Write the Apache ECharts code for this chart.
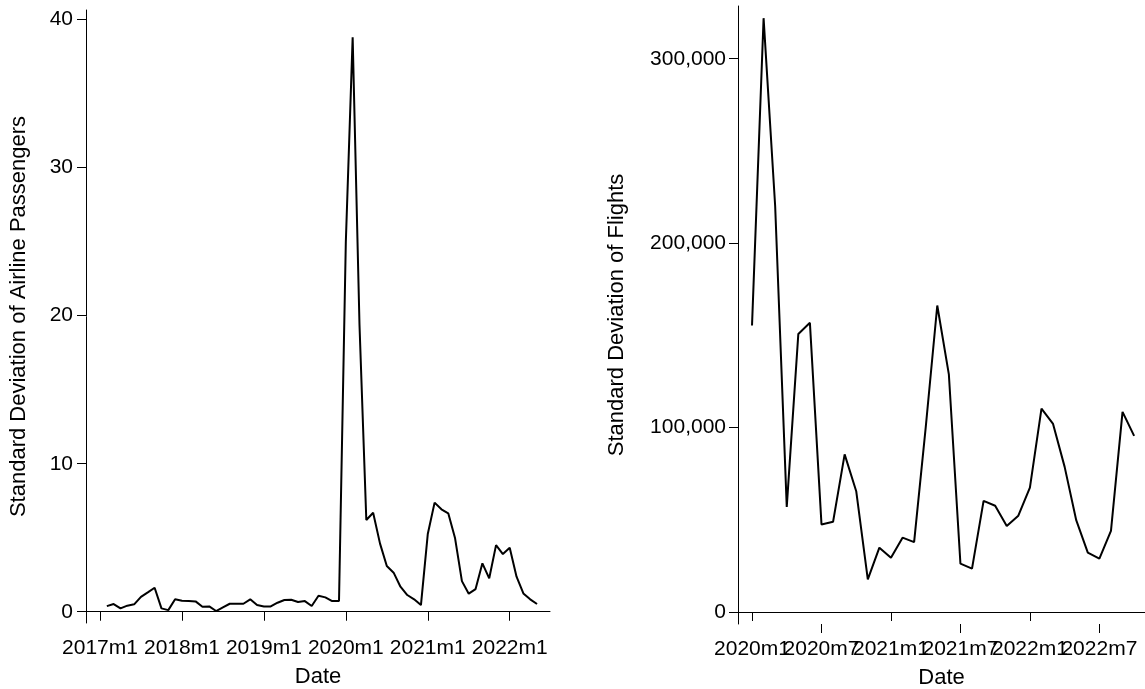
<!DOCTYPE html>
<html>
<head>
<meta charset="utf-8">
<script src="https://cdn.jsdelivr.net/npm/echarts@6/dist/echarts.min.js"></script>
<style>
  html, body { margin: 0; padding: 0; background: #fff; }
  #main { width: 1145px; height: 689px; }
</style>
</head>
<body>
<div id="main"></div>
<script>
// left panel: passengers, monthly from 2017m2
var passengerStart = '2017m2';
var passengerSd = [
    0.38, 0.52, 0.23, 0.41, 0.50, 1.01, 1.31, 1.62, 0.23, 0.11, 0.84,
    0.74, 0.72, 0.70, 0.34, 0.36, 0.05, 0.30, 0.54, 0.54, 0.54, 0.84, 0.45,
    0.36, 0.36, 0.61, 0.79, 0.81, 0.66, 0.72, 0.39, 1.08, 0.97, 0.72, 0.72,
    25.0, 38.8, 19.4, 6.20, 6.69, 4.62, 3.09, 2.64, 1.69, 1.13, 0.84, 0.45,
    5.25, 7.37, 6.92, 6.65, 4.96, 2.07, 1.22, 1.53, 3.27, 2.26, 4.50, 3.90,
    4.32, 2.37, 1.24, 0.84, 0.52
];
var passengerTicks = ['2017m1', '2018m1', '2019m1', '2020m1', '2021m1', '2022m1'];
var passengerYTicks = [0, 10, 20, 30, 40];

// right panel: flights, monthly from 2020m1
var flightStart = '2020m1';
var flightSd = [
    155400, 322000, 220000, 57000, 150800, 156800, 47500, 48900, 85500, 65500,
    17700, 34900, 29400, 40300, 37900, 100000, 166200, 128900, 26200, 23500,
    60300, 57600, 46600, 52200, 67500, 110300, 102000, 78700, 49800, 32200,
    28900, 44000, 108500, 95500
];
var flightTicks = ['2020m1', '2020m7', '2021m1', '2021m7', '2022m1', '2022m7'];
var flightYTicks = [0, 100000, 200000, 300000];

function toMonth(s) {
    var p = s.split('m');
    return parseInt(p[0], 10) * 12 + parseInt(p[1], 10) - 1;
}
function monthLabel(v) {
    v = Math.round(v);
    return Math.floor(v / 12) + 'm' + (v % 12 + 1);
}
function withCommas(v) {
    return String(v).replace(/\B(?=(\d{3})+(?!\d))/g, ',');
}
function seriesData(start, vals) {
    var s = toMonth(start);
    return vals.map(function (v, i) { return [s + i, v]; });
}

var font = 'Liberation Sans, Arial, sans-serif';
var axisLine = { show: true, lineStyle: { color: '#000', width: 1 } };
var axisTick = { show: true, length: 9, lineStyle: { color: '#000', width: 1 } };
var labelStyle = { color: '#000', fontSize: 21, fontFamily: font, showMinLabel: true, showMaxLabel: true, hideOverlap: false };
var nameStyle = { color: '#000', fontSize: 22, fontFamily: font };

var myChart = echarts.init(document.getElementById('main'));
var p0 = toMonth('2017m1');
var f0 = toMonth('2020m1');
// right panel labels overlap like the original, split them over two axes so none get dropped
var flightTicksA = flightTicks.filter(function (t, i) { return i % 2 === 0; }).map(toMonth);
var flightTicksB = flightTicks.filter(function (t, i) { return i % 2 === 1; }).map(toMonth);

var option = {
    animation: false,
    backgroundColor: '#fff',
    grid: [
        { left: 86, top: 10, width: 464, height: 613, containLabel: false, outerBoundsMode: 'none' },
        { left: 738, top: 6, width: 407, height: 618, containLabel: false, outerBoundsMode: 'none' }
    ],
    xAxis: [
        {
            type: 'value', gridIndex: 0,
            min: p0 - 2.05, max: p0 + 65.9,
            name: 'Date', nameLocation: 'middle', nameGap: 43, nameTextStyle: nameStyle,
            axisLine: axisLine,
            axisTick: Object.assign({ customValues: passengerTicks.map(toMonth) }, axisTick),
            axisLabel: Object.assign({ customValues: passengerTicks.map(toMonth), margin: 15, formatter: monthLabel }, labelStyle),
            splitLine: { show: false }
        },
        {
            type: 'value', gridIndex: 1,
            min: f0 - 1.21, max: f0 + 33.94,
            name: 'Date', nameLocation: 'middle', nameGap: 43, nameTextStyle: nameStyle,
            axisLine: axisLine,
            axisTick: Object.assign({ customValues: flightTicksA }, axisTick),
            axisLabel: Object.assign({ customValues: flightTicksA, margin: 15, formatter: monthLabel }, labelStyle),
            splitLine: { show: false }
        },
        {
            type: 'value', gridIndex: 1, position: 'bottom', offset: 0,
            min: f0 - 1.21, max: f0 + 33.94,
            axisLine: { show: false },
            axisTick: Object.assign({ customValues: flightTicksB }, axisTick),
            axisLabel: Object.assign({ customValues: flightTicksB, margin: 15, formatter: monthLabel }, labelStyle),
            splitLine: { show: false }
        }
    ],
    yAxis: [
        {
            type: 'value', gridIndex: 0,
            min: -0.76, max: 40.65,
            name: 'Standard Deviation of Airline Passengers', nameLocation: 'middle', nameGap: 56,
            nameTextStyle: nameStyle,
            axisLine: axisLine,
            axisTick: Object.assign({ customValues: passengerYTicks }, axisTick),
            axisLabel: Object.assign({ customValues: passengerYTicks, margin: 13 }, labelStyle),
            splitLine: { show: false }
        },
        {
            type: 'value', gridIndex: 1,
            min: -6500, max: 328600,
            name: 'Standard Deviation of Flights', nameLocation: 'middle', nameGap: 110,
            nameTextStyle: nameStyle,
            axisLine: axisLine,
            axisTick: Object.assign({ customValues: flightYTicks }, axisTick),
            axisLabel: Object.assign({ customValues: flightYTicks, margin: 12, formatter: withCommas }, labelStyle),
            splitLine: { show: false }
        }
    ],
    series: [
        {
            type: 'line', xAxisIndex: 0, yAxisIndex: 0,
            data: seriesData(passengerStart, passengerSd),
            showSymbol: false, lineStyle: { color: '#000', width: 2 }
        },
        {
            type: 'line', xAxisIndex: 1, yAxisIndex: 1,
            data: seriesData(flightStart, flightSd),
            showSymbol: false, lineStyle: { color: '#000', width: 2 }
        }
    ]
};
myChart.setOption(option);
</script>
</body>
</html>
